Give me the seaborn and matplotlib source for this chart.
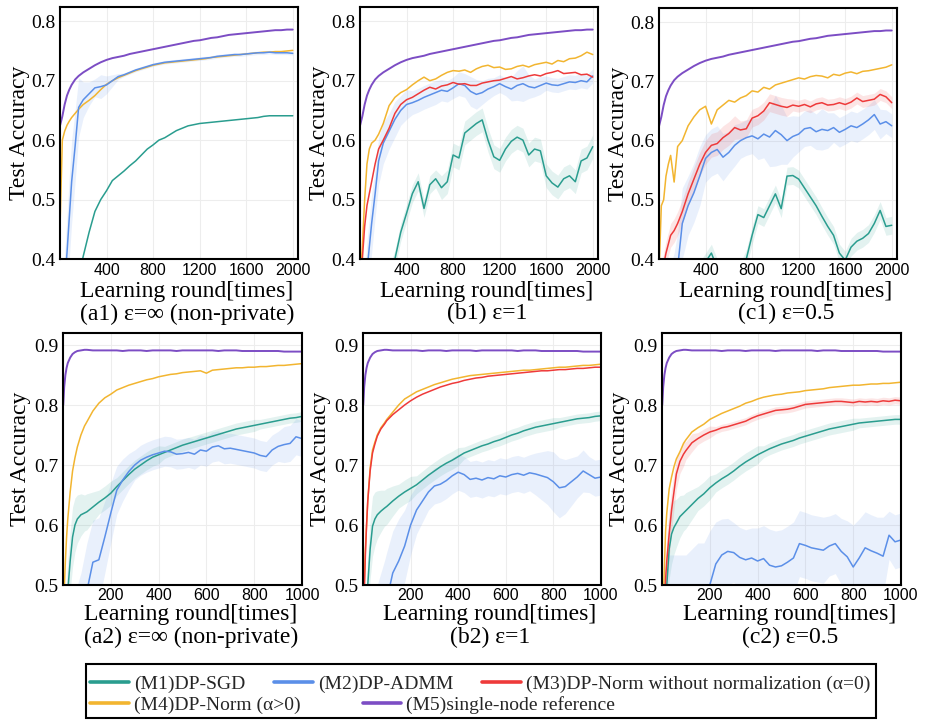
import numpy as np
import matplotlib
matplotlib.use("Agg")
import matplotlib.pyplot as plt
from matplotlib.lines import Line2D
from matplotlib.patches import Rectangle
import seaborn as sns

# ---------------- data ----------------
X_TOP = [1, 20, 40, 60, 80, 100, 130, 160, 200,
         250, 300, 350, 400, 450, 500, 550, 600, 650,
         700, 750, 800, 850, 900, 950, 1000, 1050, 1100,
         1150, 1200, 1250, 1300, 1350, 1400, 1450, 1500, 1550,
         1600, 1650, 1700, 1750, 1800, 1850, 1900, 1950, 2000]

X_BOT = [1, 5, 10, 15, 20, 30, 40, 50,
         60, 75, 90, 100, 125, 150, 175, 200,
         225, 250, 275, 300, 325, 350, 375, 400,
         425, 450, 475, 500, 525, 550, 575, 600,
         625, 650, 675, 700, 725, 750, 775, 800,
         825, 850, 875, 900, 925, 950, 975, 1000]

PURPLE_TOP = [0.625, 0.64, 0.66, 0.675, 0.685, 0.693, 0.702, 0.708, 0.714,
              0.72, 0.726, 0.731, 0.735, 0.738, 0.74, 0.742, 0.745, 0.747,
              0.749, 0.751, 0.753, 0.755, 0.757, 0.759, 0.761, 0.763, 0.765,
              0.767, 0.768, 0.77, 0.772, 0.773, 0.775, 0.777, 0.778, 0.779,
              0.78, 0.781, 0.782, 0.783, 0.784, 0.785, 0.785, 0.786, 0.786]

# (a1)
A1_ORANGE = [0.46, 0.6, 0.615, 0.625, 0.632, 0.638, 0.645, 0.652, 0.66,
             0.667, 0.675, 0.685, 0.694, 0.7, 0.705, 0.709, 0.713, 0.717,
             0.72, 0.723, 0.726, 0.728, 0.73, 0.731, 0.732, 0.733, 0.734,
             0.735, 0.736, 0.737, 0.739, 0.74, 0.741, 0.742, 0.743, 0.744,
             0.745, 0.746, 0.747, 0.748, 0.748, 0.749, 0.749, 0.75, 0.751]
A1_BLUE = [0.3, 0.32, 0.36, 0.41, 0.47, 0.53, 0.59, 0.655, 0.668,
           0.678, 0.688, 0.69, 0.693, 0.7, 0.707, 0.71, 0.714, 0.718,
           0.721, 0.724, 0.727, 0.729, 0.731, 0.732, 0.733, 0.734, 0.735,
           0.736, 0.737, 0.738, 0.739, 0.741, 0.742, 0.743, 0.744, 0.744,
           0.745, 0.746, 0.747, 0.747, 0.748, 0.747, 0.747, 0.747, 0.746]
A1_BLUE_BAND = [0.02, 0.03, 0.05, 0.06, 0.07, 0.07, 0.06, 0.05, 0.03,
                0.02, 0.015, 0.02, 0.015, 0.01, 0.005, 0.003, 0.003, 0.003,
                0.003, 0.003, 0.003, 0.003, 0.003, 0.003, 0.003, 0.003, 0.003,
                0.003, 0.003, 0.003, 0.003, 0.003, 0.003, 0.003, 0.003, 0.003,
                0.003, 0.003, 0.003, 0.003, 0.003, 0.003, 0.003, 0.003, 0.003]
A1_TEAL = [0.25, 0.26, 0.275, 0.29, 0.305, 0.32, 0.345, 0.37, 0.405,
           0.445, 0.48, 0.5, 0.515, 0.532, 0.54, 0.548, 0.557, 0.565,
           0.575, 0.585, 0.592, 0.6, 0.604, 0.61, 0.616, 0.62, 0.624,
           0.626, 0.628, 0.629, 0.63, 0.631, 0.632, 0.633, 0.634, 0.635,
           0.636, 0.637, 0.638, 0.64, 0.641, 0.641, 0.641, 0.641, 0.641]

# (b1)
B1_ORANGE = [0.36, 0.42, 0.5, 0.56, 0.585, 0.595, 0.6, 0.61, 0.628,
             0.658, 0.672, 0.68, 0.685, 0.693, 0.7, 0.706, 0.7, 0.703,
             0.709, 0.714, 0.717, 0.716, 0.718, 0.714, 0.72, 0.724, 0.726,
             0.722, 0.723, 0.719, 0.72, 0.724, 0.726, 0.723, 0.727, 0.729,
             0.731, 0.728, 0.734, 0.732, 0.737, 0.738, 0.742, 0.748, 0.744]
B1_RED = [0.33, 0.4, 0.455, 0.49, 0.51, 0.53, 0.56, 0.585, 0.6,
          0.62, 0.645, 0.66, 0.668, 0.672, 0.678, 0.684, 0.689, 0.686,
          0.691, 0.693, 0.697, 0.694, 0.695, 0.692, 0.692, 0.696, 0.698,
          0.7, 0.701, 0.704, 0.707, 0.703, 0.705, 0.708, 0.71, 0.708,
          0.712, 0.714, 0.717, 0.712, 0.713, 0.714, 0.71, 0.711, 0.706]
B1_BLUE = [0.28, 0.3, 0.33, 0.38, 0.42, 0.46, 0.51, 0.565, 0.595,
           0.615, 0.635, 0.65, 0.66, 0.663, 0.667, 0.672, 0.676, 0.68,
           0.684, 0.682, 0.688, 0.695, 0.692, 0.682, 0.677, 0.68, 0.686,
           0.69, 0.695, 0.69, 0.686, 0.692, 0.695, 0.69, 0.688, 0.692,
           0.696, 0.693, 0.692, 0.695, 0.698, 0.697, 0.7, 0.698, 0.708]
B1_BLUE_BAND = [0.02, 0.03, 0.04, 0.05, 0.05, 0.05, 0.04, 0.04, 0.035,
                0.03, 0.03, 0.025, 0.025, 0.02, 0.02, 0.02, 0.02, 0.02,
                0.018, 0.018, 0.018, 0.02, 0.02, 0.025, 0.025, 0.02, 0.018,
                0.015, 0.015, 0.015, 0.02, 0.025, 0.03, 0.02, 0.015, 0.015,
                0.012, 0.012, 0.012, 0.012, 0.012, 0.012, 0.012, 0.012, 0.012]
B1_TEAL = [0.22, 0.23, 0.24, 0.25, 0.26, 0.27, 0.29, 0.31, 0.34,
           0.37, 0.4, 0.445, 0.477, 0.51, 0.53, 0.485, 0.525, 0.535,
           0.52, 0.53, 0.575, 0.57, 0.612, 0.62, 0.628, 0.634, 0.6,
           0.572, 0.566, 0.585, 0.598, 0.605, 0.6, 0.575, 0.585, 0.582,
           0.54, 0.528, 0.521, 0.535, 0.54, 0.53, 0.565, 0.57, 0.589]
B1_TEAL_BAND = [0.01, 0.01, 0.01, 0.01, 0.01, 0.01, 0.01, 0.01, 0.01,
                0.015, 0.015, 0.015, 0.015, 0.015, 0.015, 0.015, 0.015, 0.015,
                0.02, 0.02, 0.02, 0.02, 0.02, 0.02, 0.02, 0.02, 0.02,
                0.02, 0.02, 0.02, 0.02, 0.02, 0.02, 0.02, 0.02, 0.02,
                0.02, 0.02, 0.02, 0.02, 0.02, 0.02, 0.02, 0.02, 0.02]

# (c1)
C1_ORANGE = [0.38, 0.49, 0.5, 0.54, 0.56, 0.575, 0.53, 0.59, 0.6,
             0.625, 0.64, 0.652, 0.658, 0.628, 0.652, 0.66, 0.668, 0.665,
             0.672, 0.676, 0.684, 0.682, 0.69, 0.687, 0.694, 0.697, 0.7,
             0.703, 0.706, 0.704, 0.708, 0.71, 0.709, 0.706, 0.712, 0.71,
             0.714, 0.716, 0.713, 0.717, 0.718, 0.72, 0.722, 0.724, 0.728]
C1_RED = [0.34, 0.37, 0.39, 0.41, 0.425, 0.44, 0.448, 0.46, 0.48,
          0.51, 0.535, 0.56, 0.58, 0.592, 0.595, 0.605, 0.612, 0.622,
          0.618, 0.62, 0.638, 0.642, 0.65, 0.664, 0.661, 0.658, 0.656,
          0.66, 0.658, 0.661, 0.657, 0.662, 0.664, 0.66, 0.661, 0.664,
          0.661, 0.665, 0.672, 0.666, 0.668, 0.67, 0.678, 0.674, 0.664]
C1_RED_BAND = [0.02, 0.02, 0.02, 0.02, 0.02, 0.02, 0.02, 0.02, 0.02,
               0.02, 0.02, 0.02, 0.02, 0.02, 0.02, 0.02, 0.02, 0.02,
               0.015, 0.015, 0.015, 0.015, 0.015, 0.015, 0.015, 0.015, 0.015,
               0.01, 0.01, 0.01, 0.01, 0.01, 0.01, 0.01, 0.01, 0.01,
               0.01, 0.01, 0.01, 0.01, 0.01, 0.01, 0.01, 0.01, 0.01]
C1_BLUE = [0.28, 0.29, 0.3, 0.31, 0.32, 0.33, 0.35, 0.385, 0.46,
           0.49, 0.512, 0.54, 0.57, 0.58, 0.585, 0.572, 0.58, 0.592,
           0.6, 0.605, 0.608, 0.603, 0.611, 0.606, 0.617, 0.61, 0.6,
           0.607, 0.611, 0.62, 0.622, 0.615, 0.619, 0.617, 0.622, 0.614,
           0.619, 0.625, 0.622, 0.628, 0.635, 0.644, 0.628, 0.632, 0.625]
C1_BLUE_BAND = [0.03, 0.03, 0.04, 0.05, 0.05, 0.06, 0.06, 0.06, 0.06,
                0.05, 0.05, 0.05, 0.04, 0.04, 0.04, 0.04, 0.035, 0.035,
                0.03, 0.03, 0.03, 0.035, 0.04, 0.05, 0.06, 0.05, 0.04,
                0.035, 0.03, 0.03, 0.03, 0.03, 0.035, 0.03, 0.025, 0.025,
                0.025, 0.025, 0.025, 0.025, 0.025, 0.025, 0.025, 0.02, 0.02]
C1_TEAL = [0.2, 0.21, 0.22, 0.23, 0.24, 0.25, 0.27, 0.29, 0.31,
           0.34, 0.36, 0.38, 0.395, 0.41, 0.385, 0.37, 0.36, 0.365,
           0.38, 0.4, 0.44, 0.475, 0.47, 0.49, 0.51, 0.485, 0.54,
           0.541, 0.535, 0.52, 0.505, 0.49, 0.472, 0.455, 0.44, 0.41,
           0.398, 0.42, 0.43, 0.435, 0.443, 0.46, 0.482, 0.455, 0.457]
C1_TEAL_BAND = [0.015, 0.015, 0.015, 0.015, 0.015, 0.015, 0.015, 0.015, 0.015,
                0.015, 0.015, 0.015, 0.015, 0.015, 0.015, 0.015, 0.015, 0.015,
                0.015, 0.015, 0.015, 0.015, 0.015, 0.015, 0.015, 0.015, 0.015,
                0.015, 0.015, 0.015, 0.015, 0.015, 0.015, 0.015, 0.015, 0.015,
                0.015, 0.015, 0.015, 0.015, 0.015, 0.015, 0.015, 0.015, 0.015]

# bottom row
PURPLE_BOT = [0.8, 0.83, 0.85, 0.862, 0.87, 0.879, 0.885, 0.888,
              0.89, 0.891, 0.892, 0.892, 0.891, 0.891, 0.891, 0.891,
              0.891, 0.89, 0.891, 0.891, 0.891, 0.89, 0.891, 0.891,
              0.891, 0.891, 0.89, 0.891, 0.891, 0.891, 0.891, 0.891,
              0.891, 0.89, 0.891, 0.891, 0.891, 0.89, 0.89, 0.89,
              0.89, 0.89, 0.89, 0.89, 0.889, 0.889, 0.889, 0.889]
TEAL_BAND_BOT = [0.02, 0.03, 0.04, 0.05, 0.05, 0.05, 0.05, 0.045,
                 0.04, 0.035, 0.03, 0.03, 0.025, 0.02, 0.02, 0.02,
                 0.015, 0.015, 0.015, 0.015, 0.015, 0.015, 0.015, 0.015,
                 0.01, 0.01, 0.01, 0.01, 0.01, 0.01, 0.01, 0.01,
                 0.01, 0.01, 0.01, 0.01, 0.01, 0.01, 0.01, 0.01,
                 0.008, 0.008, 0.008, 0.008, 0.008, 0.008, 0.008, 0.008]

# (a2)
A2_ORANGE = [0.45, 0.49, 0.54, 0.58, 0.61, 0.655, 0.69, 0.712,
             0.73, 0.75, 0.765, 0.772, 0.79, 0.803, 0.812, 0.818,
             0.825, 0.829, 0.833, 0.836, 0.839, 0.842, 0.844, 0.847,
             0.849, 0.851, 0.852, 0.854, 0.855, 0.856, 0.857, 0.853,
             0.858, 0.859, 0.86, 0.861, 0.862, 0.862, 0.863, 0.863,
             0.864, 0.864, 0.865, 0.866, 0.866, 0.867, 0.868, 0.869]
A2_TEAL = [0.35, 0.38, 0.42, 0.46, 0.49, 0.54, 0.58, 0.6,
           0.61, 0.617, 0.62, 0.622, 0.63, 0.638, 0.645, 0.653,
           0.664, 0.674, 0.684, 0.693, 0.7, 0.707, 0.713, 0.717,
           0.721, 0.725, 0.729, 0.733, 0.736, 0.739, 0.742, 0.745,
           0.748, 0.751, 0.754, 0.757, 0.76, 0.762, 0.764, 0.766,
           0.768, 0.77, 0.772, 0.774, 0.776, 0.778, 0.779, 0.781]
A2_BLUE = [0.3, 0.31, 0.32, 0.33, 0.34, 0.36, 0.38, 0.4,
           0.42, 0.44, 0.47, 0.49, 0.538, 0.542, 0.58, 0.62,
           0.658, 0.675, 0.689, 0.7, 0.708, 0.713, 0.717, 0.72,
           0.723, 0.722, 0.718, 0.719, 0.721, 0.718, 0.725, 0.723,
           0.73, 0.732, 0.727, 0.728, 0.726, 0.724, 0.722, 0.72,
           0.716, 0.714, 0.725, 0.731, 0.734, 0.736, 0.747, 0.744]
A2_BLUE_BAND = [0.05, 0.05, 0.05, 0.06, 0.06, 0.07, 0.07, 0.07,
                0.08, 0.08, 0.08, 0.08, 0.07, 0.07, 0.06, 0.05,
                0.04, 0.035, 0.03, 0.025, 0.025, 0.025, 0.025, 0.025,
                0.025, 0.025, 0.025, 0.025, 0.025, 0.025, 0.025, 0.025,
                0.025, 0.025, 0.025, 0.025, 0.025, 0.025, 0.025, 0.025,
                0.025, 0.025, 0.025, 0.025, 0.03, 0.03, 0.03, 0.03]

# (b2)
B2_ORANGE = [0.45, 0.5, 0.56, 0.6, 0.64, 0.695, 0.725, 0.738,
             0.75, 0.762, 0.77, 0.776, 0.788, 0.8, 0.81, 0.816,
             0.822, 0.826, 0.83, 0.834, 0.837, 0.84, 0.843, 0.845,
             0.847, 0.849, 0.85, 0.851, 0.852, 0.853, 0.854, 0.855,
             0.856, 0.857, 0.858, 0.858, 0.859, 0.86, 0.861, 0.862,
             0.863, 0.863, 0.864, 0.865, 0.866, 0.866, 0.867, 0.868]
B2_RED = [0.42, 0.48, 0.55, 0.6, 0.64, 0.69, 0.72, 0.735,
          0.748, 0.76, 0.768, 0.774, 0.784, 0.792, 0.8, 0.807,
          0.813, 0.818, 0.822, 0.826, 0.83, 0.833, 0.836, 0.838,
          0.841, 0.843, 0.845, 0.846, 0.848, 0.849, 0.85, 0.851,
          0.852, 0.853, 0.854, 0.855, 0.856, 0.857, 0.857, 0.858,
          0.859, 0.859, 0.86, 0.861, 0.861, 0.862, 0.863, 0.863]
B2_TEAL = [0.35, 0.38, 0.42, 0.46, 0.5, 0.56, 0.598, 0.61,
           0.617, 0.623, 0.628, 0.631, 0.64, 0.648, 0.655, 0.661,
           0.667, 0.675, 0.683, 0.69, 0.697, 0.703, 0.708, 0.714,
           0.72, 0.724, 0.728, 0.732, 0.735, 0.739, 0.742, 0.746,
           0.75, 0.753, 0.757, 0.76, 0.763, 0.765, 0.767, 0.769,
           0.771, 0.773, 0.775, 0.777, 0.778, 0.779, 0.781, 0.782]
B2_BLUE = [0.3, 0.31, 0.32, 0.33, 0.34, 0.36, 0.38, 0.4,
           0.42, 0.44, 0.46, 0.475, 0.52, 0.54, 0.565, 0.6,
           0.625, 0.64, 0.655, 0.665, 0.668, 0.674, 0.682, 0.688,
           0.684, 0.676, 0.678, 0.675, 0.679, 0.677, 0.682, 0.68,
           0.684, 0.686, 0.683, 0.687, 0.685, 0.682, 0.679, 0.672,
           0.662, 0.664, 0.672, 0.68, 0.69, 0.684, 0.678, 0.68]
B2_BLUE_BAND = [0.05, 0.05, 0.05, 0.06, 0.06, 0.07, 0.07, 0.07,
                0.08, 0.08, 0.08, 0.08, 0.07, 0.07, 0.06, 0.05,
                0.04, 0.035, 0.03, 0.03, 0.03, 0.03, 0.03, 0.03,
                0.03, 0.03, 0.03, 0.03, 0.03, 0.03, 0.03, 0.03,
                0.03, 0.03, 0.03, 0.03, 0.035, 0.04, 0.045, 0.05,
                0.05, 0.045, 0.04, 0.035, 0.035, 0.03, 0.03, 0.03]

# (c2)
C2_ORANGE = [0.4, 0.46, 0.53, 0.59, 0.62, 0.66, 0.68, 0.697,
             0.71, 0.722, 0.736, 0.742, 0.755, 0.762, 0.768, 0.776,
             0.781, 0.786, 0.79, 0.794, 0.798, 0.803, 0.806, 0.81,
             0.813, 0.815, 0.817, 0.818, 0.82, 0.821, 0.822, 0.824,
             0.825, 0.826, 0.827, 0.829, 0.83, 0.831, 0.832, 0.833,
             0.833, 0.834, 0.835, 0.835, 0.836, 0.836, 0.837, 0.838]
C2_RED = [0.38, 0.42, 0.47, 0.51, 0.54, 0.585, 0.625, 0.655,
          0.685, 0.706, 0.718, 0.724, 0.737, 0.744, 0.75, 0.755,
          0.758, 0.762, 0.764, 0.767, 0.77, 0.773, 0.778, 0.782,
          0.785, 0.788, 0.791, 0.792, 0.793, 0.795, 0.798, 0.801,
          0.802, 0.803, 0.804, 0.805, 0.806, 0.806, 0.805, 0.804,
          0.806, 0.805, 0.806, 0.805, 0.807, 0.806, 0.808, 0.807]
C2_RED_BAND = [0.02, 0.03, 0.04, 0.04, 0.04, 0.04, 0.035, 0.03,
               0.025, 0.02, 0.02, 0.015, 0.015, 0.01, 0.01, 0.01,
               0.006, 0.006, 0.006, 0.006, 0.006, 0.006, 0.006, 0.006,
               0.006, 0.006, 0.006, 0.006, 0.006, 0.006, 0.006, 0.006,
               0.006, 0.006, 0.006, 0.006, 0.006, 0.006, 0.006, 0.006,
               0.006, 0.006, 0.006, 0.006, 0.006, 0.006, 0.006, 0.006]
C2_TEAL = [0.35, 0.38, 0.42, 0.46, 0.5, 0.56, 0.585, 0.596,
           0.603, 0.614, 0.62, 0.624, 0.634, 0.644, 0.652, 0.662,
           0.67, 0.677, 0.683, 0.69, 0.698, 0.705, 0.711, 0.717,
           0.722, 0.727, 0.731, 0.735, 0.738, 0.741, 0.745, 0.748,
           0.751, 0.754, 0.757, 0.76, 0.762, 0.764, 0.766, 0.768,
           0.77, 0.771, 0.772, 0.773, 0.774, 0.775, 0.776, 0.776]
C2_BLUE = [0.3, 0.31, 0.32, 0.33, 0.34, 0.35, 0.36, 0.37,
           0.38, 0.39, 0.4, 0.41, 0.43, 0.45, 0.47, 0.5,
           0.535, 0.55, 0.556, 0.554, 0.546, 0.542, 0.545, 0.54,
           0.544, 0.533, 0.53, 0.532, 0.538, 0.545, 0.569, 0.566,
           0.562, 0.56, 0.558, 0.565, 0.569, 0.556, 0.547, 0.53,
           0.545, 0.562, 0.557, 0.553, 0.548, 0.583, 0.572, 0.575]
C2_BLUE_BAND = [0.2, 0.2, 0.2, 0.2, 0.2, 0.2, 0.19, 0.18,
                0.17, 0.16, 0.15, 0.14, 0.13, 0.12, 0.1, 0.09,
                0.07, 0.06, 0.055, 0.05, 0.05, 0.05, 0.05, 0.055,
                0.055, 0.06, 0.06, 0.06, 0.06, 0.06, 0.055, 0.055,
                0.055, 0.055, 0.055, 0.05, 0.05, 0.055, 0.06, 0.07,
                0.065, 0.06, 0.06, 0.06, 0.065, 0.04, 0.045, 0.045]

LEGEND_LABELS = ["(M1)DP-SGD", "(M2)DP-ADMM",
                 "(M3)DP-Norm without normalization (\u03b1=0)",
                 "(M4)DP-Norm (\u03b1>0)", "(M5)single-node reference"]
TOP_TICKS = [400, 800, 1200, 1600, 2000]
BOT_TICKS = [200, 400, 600, 800, 1000]
TOP_YTICKS = [0.4, 0.5, 0.6, 0.7, 0.8]
BOT_YTICKS = [0.5, 0.6, 0.7, 0.8, 0.9]
SUBTITLES = ["(a1) \u03b5=\u221e (non-private)", "(b1) \u03b5=1", "(c1) \u03b5=0.5",
             "(a2) \u03b5=\u221e (non-private)", "(b2) \u03b5=1", "(c2) \u03b5=0.5"]

# ---------------- style ----------------
TEAL = "#2a9d8f"
BLUE = "#5b8fe8"
RED = "#ee3a3a"
ORANGE = "#f2b530"
PURPLE = "#7c4dc4"

sns.set_theme(style="whitegrid")
plt.rcParams["font.family"] = ["Liberation Serif", "DejaVu Serif"]

W, H = 925, 721
fig = plt.figure(figsize=(W / 100, H / 100), dpi=100)
fig.patch.set_facecolor("white")

# axes rectangles in pixels: left, right, top, bottom
RECTS = [(60, 298, 7, 259), (360, 598, 7, 259), (659, 897, 8, 259),
         (63, 302, 333, 585), (363, 601, 333, 585), (662, 901, 333, 585)]

panels = [
    (X_TOP, [(A1_ORANGE, ORANGE, None), (A1_TEAL, TEAL, None),
             (A1_BLUE, BLUE, A1_BLUE_BAND), (PURPLE_TOP, PURPLE, None)]),
    (X_TOP, [(B1_ORANGE, ORANGE, None), (B1_TEAL, TEAL, B1_TEAL_BAND),
             (B1_BLUE, BLUE, B1_BLUE_BAND), (B1_RED, RED, None),
             (PURPLE_TOP, PURPLE, None)]),
    (X_TOP, [(C1_ORANGE, ORANGE, None), (C1_TEAL, TEAL, C1_TEAL_BAND),
             (C1_BLUE, BLUE, C1_BLUE_BAND), (C1_RED, RED, C1_RED_BAND),
             (PURPLE_TOP, PURPLE, None)]),
    (X_BOT, [(A2_ORANGE, ORANGE, None), (A2_TEAL, TEAL, TEAL_BAND_BOT),
             (A2_BLUE, BLUE, A2_BLUE_BAND), (PURPLE_BOT, PURPLE, None)]),
    (X_BOT, [(B2_ORANGE, ORANGE, None), (B2_TEAL, TEAL, TEAL_BAND_BOT),
             (B2_BLUE, BLUE, B2_BLUE_BAND), (B2_RED, RED, None),
             (PURPLE_BOT, PURPLE, None)]),
    (X_BOT, [(C2_ORANGE, ORANGE, None), (C2_TEAL, TEAL, TEAL_BAND_BOT),
             (C2_BLUE, BLUE, C2_BLUE_BAND), (C2_RED, RED, C2_RED_BAND),
             (PURPLE_BOT, PURPLE, None)]),
]

for i, ((xs, series), (l, r, t, b)) in enumerate(zip(panels, RECTS)):
    ax = fig.add_axes([l / W, 1 - b / H, (r - l) / W, (b - t) / H])
    ax.set_facecolor("white")
    for ys, col, band in series:
        if band is not None:
            lo = np.array(ys) - np.array(band)
            hi = np.array(ys) + np.array(band)
            ax.fill_between(xs, lo, hi, color=col, alpha=0.13, lw=0)
        sns.lineplot(x=xs, y=ys, ax=ax, color=col,
                     lw=1.4 if col == PURPLE else 1.1, errorbar=None)
    top = i < 3
    if top:
        ax.set_xlim(0, 2045)
        ax.set_ylim(0.4, 0.824)
        ax.set_xticks(TOP_TICKS)
        ax.set_yticks(TOP_YTICKS)
        ax.set_yticklabels([f"{v:.1f}" for v in TOP_YTICKS])
    else:
        ax.set_xlim(0, 1000)
        ax.set_ylim(0.5, 0.92)
        ax.set_xticks(BOT_TICKS)
        ax.set_yticks(BOT_YTICKS)
        ax.set_yticklabels([f"{v:.1f}" for v in BOT_YTICKS])
    ax.grid(True, color="#ededed", lw=0.8)
    for s in ax.spines.values():
        s.set_color("black")
        s.set_linewidth(1.5)
    ax.tick_params(axis="both", length=0)
    ax.tick_params(axis="y", labelsize=14, pad=3.5, labelcolor="black")
    ax.tick_params(axis="x", labelsize=11.5, pad=2 if not top else 3,
                   labelcolor="black", labelfontfamily="Liberation Sans")
    ax.set_ylabel("Test Accuracy", fontsize=17, color="black")
    ax.yaxis.set_label_coords(-0.125 if top else -0.134, 0.5)
    ax.set_xlabel("Learning round[times]", fontsize=17, color="black")
    ax.xaxis.set_label_coords(0.534, -0.087 if top else -0.074)
    ax.text(0.534, -0.218 if top else -0.208, SUBTITLES[i], transform=ax.transAxes,
            ha="center", va="center", fontsize=17, color="black")

# ---------------- legend ----------------
cols = [TEAL, BLUE, RED, ORANGE, PURPLE]
handles = [Line2D([], [], color=c, lw=2.6) for c in cols]
common = dict(frameon=False, fontsize=14, handlelength=2.0, handletextpad=0.25,
              borderpad=0, borderaxespad=0, loc="upper left")
fig.legend(handles[:3], LEGEND_LABELS[:3], ncol=3, columnspacing=1.5,
           bbox_to_anchor=(90 / W, 1 - 675 / H), **common)
fig.legend(handles[3:], LEGEND_LABELS[3:], ncol=2, columnspacing=3.2,
           bbox_to_anchor=(90 / W, 1 - 696 / H), **common)
fig.patches.append(Rectangle((86 / W, 1 - 718 / H), 790 / W, 54 / H,
                             transform=fig.transFigure, fill=False,
                             edgecolor="black", lw=1.5))

fig.savefig("out.png", dpi=100, facecolor="white")
